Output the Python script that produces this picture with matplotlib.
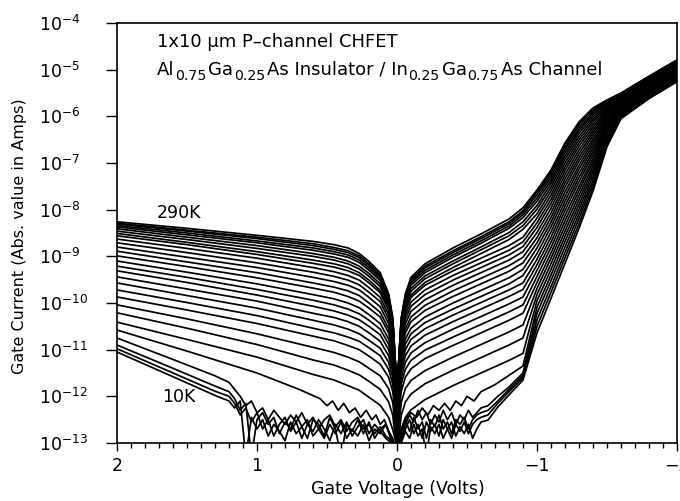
import numpy as np
import matplotlib
matplotlib.use("Agg")
import matplotlib.pyplot as plt
from matplotlib.ticker import MultipleLocator, LogLocator, NullLocator

plt.rcParams['font.family'] = ['DejaVu Sans']

# ---------------- data (log10 of |gate current| in A) ----------------
temps_smooth_K = [290, 280, 270, 260, 250, 240, 230, 220, 210, 200, 190, 180,
                  170, 160, 150, 140, 130, 120, 110, 100, 90, 80, 70, 60]

v_pos = [2.0, 1.5, 1.0, 0.6, 0.45, 0.35, 0.27, 0.2, 0.12, 0.06, 0.03, 0.01]
v_zero = 0.0
log_at_zero = -13.2
v_neg = [-0.01, -0.03, -0.06, -0.1, -0.2, -0.4, -0.6, -0.8, -0.9, -1.0,
         -1.1, -1.2, -1.3, -1.4, -1.5, -1.6, -1.8, -2.0]

logI_pos = [
    [-8.26, -8.40, -8.55, -8.68, -8.75, -8.82, -8.94, -9.11, -9.35, -9.80, -10.32, -11.37],
    [-8.29, -8.44, -8.59, -8.73, -8.81, -8.88, -8.99, -9.16, -9.40, -9.83, -10.35, -11.38],
    [-8.31, -8.46, -8.62, -8.77, -8.85, -8.92, -9.03, -9.20, -9.43, -9.86, -10.37, -11.38],
    [-8.34, -8.50, -8.67, -8.82, -8.90, -8.97, -9.08, -9.25, -9.47, -9.90, -10.39, -11.37],
    [-8.37, -8.54, -8.71, -8.87, -8.95, -9.02, -9.13, -9.30, -9.52, -9.94, -10.42, -11.38],
    [-8.41, -8.59, -8.77, -8.94, -9.02, -9.10, -9.21, -9.37, -9.59, -10.00, -10.47, -11.41],
    [-8.46, -8.64, -8.83, -9.00, -9.08, -9.16, -9.27, -9.43, -9.65, -10.05, -10.51, -11.43],
    [-8.51, -8.70, -8.90, -9.08, -9.16, -9.24, -9.35, -9.51, -9.73, -10.12, -10.57, -11.47],
    [-8.56, -8.75, -8.96, -9.15, -9.23, -9.31, -9.41, -9.57, -9.78, -10.16, -10.60, -11.46],
    [-8.63, -8.83, -9.04, -9.24, -9.33, -9.41, -9.51, -9.67, -9.88, -10.25, -10.68, -11.52],
    [-8.71, -8.92, -9.14, -9.34, -9.43, -9.51, -9.61, -9.77, -9.97, -10.34, -10.76, -11.58],
    [-8.80, -9.02, -9.24, -9.45, -9.54, -9.62, -9.72, -9.88, -10.08, -10.44, -10.85, -11.65],
    [-8.89, -9.12, -9.35, -9.57, -9.66, -9.74, -9.84, -10.00, -10.20, -10.55, -10.95, -11.73],
    [-8.99, -9.22, -9.46, -9.68, -9.77, -9.86, -9.96, -10.11, -10.30, -10.64, -11.02, -11.77],
    [-9.10, -9.34, -9.59, -9.82, -9.91, -10.00, -10.10, -10.25, -10.44, -10.77, -11.14, -11.87],
    [-9.21, -9.45, -9.71, -9.94, -10.04, -10.13, -10.23, -10.37, -10.56, -10.88, -11.24, -11.95],
    [-9.31, -9.56, -9.83, -10.07, -10.17, -10.26, -10.36, -10.50, -10.68, -11.00, -11.35, -12.04],
    [-9.44, -9.70, -9.96, -10.22, -10.31, -10.40, -10.50, -10.64, -10.82, -11.13, -11.47, -12.14],
    [-9.57, -9.84, -10.11, -10.37, -10.47, -10.56, -10.66, -10.80, -10.97, -11.27, -11.60, -12.23],
    [-9.72, -9.99, -10.27, -10.54, -10.64, -10.73, -10.82, -10.96, -11.13, -11.42, -11.74, -12.35],
    [-9.87, -10.15, -10.44, -10.71, -10.81, -10.91, -11.00, -11.14, -11.31, -11.59, -11.90, -12.49],
    [-10.04, -10.34, -10.66, -10.95, -11.06, -11.16, -11.26, -11.40, -11.56, -11.83, -12.14, -12.71],
    [-10.21, -10.54, -10.89, -11.22, -11.33, -11.44, -11.54, -11.68, -11.85, -12.12, -12.41, -12.97],
    [-10.41, -10.78, -11.16, -11.53, -11.65, -11.77, -11.87, -12.02, -12.19, -12.45, -12.72, -12.95],
]

logI_neg = [
    [-11.37, -10.32, -9.80, -9.45, -9.16, -8.82, -8.52, -8.20, -7.96, -7.58, -7.15, -6.57, -6.12, -5.82, -5.65, -5.50, -5.14, -4.79],
    [-11.38, -10.35, -9.83, -9.50, -9.21, -8.88, -8.58, -8.26, -8.02, -7.62, -7.19, -6.60, -6.15, -5.84, -5.66, -5.51, -5.15, -4.80],
    [-11.38, -10.37, -9.86, -9.53, -9.25, -8.92, -8.62, -8.30, -8.06, -7.68, -7.24, -6.65, -6.19, -5.88, -5.68, -5.52, -5.16, -4.81],
    [-11.37, -10.39, -9.90, -9.57, -9.30, -8.97, -8.67, -8.35, -8.11, -7.75, -7.30, -6.71, -6.25, -5.92, -5.71, -5.53, -5.17, -4.82],
    [-11.38, -10.42, -9.94, -9.62, -9.35, -9.02, -8.72, -8.40, -8.17, -7.82, -7.37, -6.78, -6.30, -5.96, -5.73, -5.54, -5.18, -4.83],
    [-11.41, -10.47, -10.00, -9.69, -9.42, -9.10, -8.80, -8.49, -8.26, -7.91, -7.44, -6.85, -6.36, -6.01, -5.76, -5.56, -5.19, -4.84],
    [-11.43, -10.51, -10.05, -9.75, -9.48, -9.16, -8.86, -8.56, -8.34, -7.99, -7.52, -6.92, -6.43, -6.06, -5.79, -5.57, -5.21, -4.85],
    [-11.47, -10.57, -10.12, -9.83, -9.56, -9.24, -8.94, -8.64, -8.42, -8.09, -7.60, -7.00, -6.50, -6.11, -5.82, -5.59, -5.22, -4.87],
    [-11.46, -10.60, -10.16, -9.88, -9.62, -9.31, -9.04, -8.77, -8.59, -8.18, -7.69, -7.08, -6.57, -6.17, -5.85, -5.61, -5.23, -4.88],
    [-11.52, -10.68, -10.25, -9.98, -9.72, -9.41, -9.14, -8.87, -8.69, -8.28, -7.78, -7.16, -6.64, -6.23, -5.88, -5.63, -5.25, -4.90],
    [-11.58, -10.76, -10.34, -10.07, -9.82, -9.51, -9.24, -8.97, -8.79, -8.38, -7.87, -7.25, -6.72, -6.29, -5.91, -5.64, -5.27, -4.91],
    [-11.65, -10.85, -10.44, -10.18, -9.93, -9.62, -9.35, -9.08, -8.90, -8.49, -7.97, -7.34, -6.80, -6.35, -5.95, -5.66, -5.28, -4.93],
    [-11.73, -10.95, -10.55, -10.30, -10.05, -9.74, -9.47, -9.20, -9.02, -8.60, -8.07, -7.43, -6.88, -6.41, -5.98, -5.68, -5.30, -4.95],
    [-11.77, -11.02, -10.64, -10.40, -10.16, -9.86, -9.59, -9.32, -9.14, -8.71, -8.17, -7.52, -6.96, -6.48, -6.02, -5.70, -5.32, -4.96],
    [-11.87, -11.14, -10.77, -10.54, -10.30, -10.00, -9.73, -9.46, -9.28, -8.82, -8.27, -7.62, -7.05, -6.54, -6.06, -5.72, -5.34, -4.98],
    [-11.95, -11.24, -10.88, -10.66, -10.42, -10.13, -9.86, -9.59, -9.41, -8.94, -8.37, -7.72, -7.13, -6.61, -6.09, -5.74, -5.35, -5.00],
    [-12.04, -11.35, -11.00, -10.78, -10.55, -10.26, -9.99, -9.72, -9.57, -9.06, -8.48, -7.82, -7.22, -6.68, -6.13, -5.77, -5.37, -5.02],
    [-12.14, -11.47, -11.13, -10.92, -10.69, -10.40, -10.13, -9.86, -9.71, -9.18, -8.59, -7.92, -7.31, -6.75, -6.17, -5.79, -5.39, -5.04],
    [-12.23, -11.60, -11.27, -11.07, -10.85, -10.56, -10.29, -10.02, -9.87, -9.30, -8.70, -8.02, -7.40, -6.82, -6.21, -5.81, -5.41, -5.06],
    [-12.35, -11.74, -11.42, -11.23, -11.01, -10.73, -10.46, -10.19, -10.04, -9.43, -8.81, -8.13, -7.50, -6.90, -6.25, -5.83, -5.43, -5.07],
    [-12.49, -11.90, -11.59, -11.41, -11.19, -10.91, -10.64, -10.37, -10.22, -9.56, -8.93, -8.24, -7.59, -6.97, -6.30, -5.86, -5.45, -5.09],
    [-12.71, -12.14, -11.83, -11.66, -11.45, -11.16, -10.89, -10.62, -10.47, -9.69, -9.04, -8.35, -7.69, -7.05, -6.34, -5.88, -5.47, -5.11],
    [-12.97, -12.41, -12.12, -11.95, -11.73, -11.44, -11.17, -10.90, -10.75, -9.82, -9.16, -8.46, -7.79, -7.12, -6.38, -5.90, -5.49, -5.13],
    [-12.95, -12.72, -12.45, -12.29, -12.07, -11.77, -11.50, -11.23, -11.08, -9.95, -9.28, -8.57, -7.89, -7.20, -6.42, -5.93, -5.51, -5.15],
]

# 50 K curve (noisy near zero bias)
v_50K = [2.0, 1.5, 1.0, 0.7, 0.55, 0.5, 0.46, 0.42, 0.38, 0.34, 0.3, 0.26, 0.22, 0.18, 0.15,
         0.12, 0.09, 0.06, 0.03, 0.01, 0.0, -0.01, -0.03, -0.06, -0.1, -0.14, -0.18, -0.22,
         -0.26, -0.3, -0.34, -0.38, -0.42, -0.46, -0.5, -0.55, -0.6, -0.7, -0.8, -0.9,
         -1.0, -1.1, -1.2, -1.3, -1.4, -1.5, -1.6, -1.8, -2.0]
logI_50K = [-10.58, -11.03, -11.50, -11.85, -12.05, -12.2, -12.1, -12.3, -12.15, -12.35,
            -12.25, -12.45, -12.3, -12.5, -12.4, -12.6, -12.5, -12.75, -12.9, -13.1, -13.2,
            -13.0, -12.7, -12.5, -12.35, -12.45, -12.25, -12.4, -12.2, -12.3, -12.15, -12.3,
            -12.1, -12.2, -12.0, -12.1, -11.9, -11.75, -11.55, -11.35, -10.09, -9.40, -8.68,
            -7.99, -7.28, -6.47, -5.95, -5.53, -5.18]

# 40, 30, 20, 10 K curves: smooth head, noise floor, rising tail
temps_low_K = [40, 30, 20, 10]
v_low_head = [2.0, 1.6, 1.3, 1.2]
logI_low_head = [
    [-10.75, -11.21, -11.56, -11.70],
    [-10.90, -11.40, -11.78, -11.90],
    [-10.98, -11.50, -11.89, -12.00],
    [-11.05, -11.58, -11.98, -12.10],
]
v_noise_pos = [1.16, 1.12, 1.08, 1.04, 1.0, 0.96, 0.92, 0.88, 0.84, 0.8, 0.76, 0.72, 0.68,
               0.64, 0.6, 0.56, 0.52, 0.48, 0.44, 0.4, 0.36, 0.32, 0.28, 0.24, 0.2, 0.16,
               0.12, 0.08, 0.04, 0.0]
logI_noise_pos = [
    [-11.85, -12.0, -12.2, -12.1, -12.35, -12.25, -12.5, -12.3, -12.45, -12.6, -12.4, -12.55,
     -12.35, -12.6, -12.45, -12.7, -12.5, -12.4, -12.65, -12.5, -12.75, -12.55, -12.45, -12.7,
     -12.6, -12.8, -12.65, -12.85, -12.95, -13.2],
    [-12.05, -12.3, -12.15, -13.3, -12.5, -12.35, -12.6, -12.45, -12.8, -12.55, -12.7, -12.4,
     -12.65, -12.9, -12.5, -12.6, -12.85, -12.45, -12.7, -13.3, -12.6, -12.75, -12.5, -12.8,
     -12.55, -12.9, -12.7, -12.6, -12.9, -13.2],
    [-12.15, -12.4, -12.25, -12.55, -12.35, -12.7, -12.5, -12.85, -12.6, -12.45, -12.75, -12.55,
     -12.9, -12.6, -12.75, -12.5, -12.7, -12.95, -12.6, -12.8, -12.55, -12.85, -12.65, -12.5,
     -12.8, -12.6, -12.75, -12.9, -13.0, -13.2],
    [-12.25, -12.1, -13.3, -12.45, -12.7, -12.5, -12.85, -12.6, -12.75, -12.95, -12.55, -12.8,
     -12.65, -12.5, -12.85, -12.7, -12.9, -12.6, -12.8, -12.55, -12.9, -12.7, -12.85, -12.6,
     -12.95, -12.7, -12.8, -12.6, -12.95, -13.2],
]
v_noise_neg = [-0.03, -0.06, -0.09, -0.12, -0.15, -0.18, -0.21, -0.24, -0.27, -0.3, -0.33,
               -0.36, -0.39, -0.42, -0.45, -0.48, -0.51, -0.54, -0.57, -0.6]
logI_noise_neg = [
    [-12.9, -12.6, -12.4, -12.55, -12.3, -12.5, -12.35, -12.6, -12.4, -12.55, -12.3, -12.5,
     -12.35, -12.6, -12.4, -12.5, -12.3, -12.45, -12.35, -12.25],
    [-12.8, -12.5, -12.75, -12.45, -12.7, -12.55, -12.9, -12.5, -12.65, -12.4, -12.7, -12.55,
     -12.8, -12.5, -12.6, -12.45, -12.7, -12.5, -12.4, -12.35],
    [-12.95, -12.7, -12.5, -12.8, -12.6, -12.9, -12.55, -12.75, -12.6, -12.85, -12.5, -12.7,
     -12.9, -12.6, -12.75, -12.55, -12.8, -12.6, -12.5, -12.45],
    [-13.0, -12.75, -12.9, -12.6, -12.85, -12.7, -13.3, -12.65, -12.8, -12.6, -12.9, -12.7,
     -12.55, -12.85, -12.65, -12.8, -12.6, -12.9, -12.7, -12.55],
]
v_low_tail = [-0.65, -0.72, -0.8, -0.9, -1.0, -1.1, -1.2, -1.3, -1.4, -1.5, -1.6, -1.8, -2.0]
logI_low_tail = [
    [-12.2, -12.0, -11.8, -11.5, -10.22, -9.52, -8.80, -8.09, -7.36, -6.51, -5.98, -5.55, -5.20],
    [-12.3, -12.1, -11.85, -11.55, -10.36, -9.65, -8.92, -8.19, -7.44, -6.56, -6.00, -5.58, -5.22],
    [-12.4, -12.15, -11.9, -11.6, -10.50, -9.77, -9.03, -8.30, -7.52, -6.60, -6.03, -5.60, -5.24],
    [-12.51, -12.23, -11.97, -11.65, -10.64, -9.90, -9.15, -8.40, -7.60, -6.65, -6.05, -5.62, -5.26],
]

# ---------------- figure ----------------
W, H = 680, 501
fig = plt.figure(figsize=(W / 100, H / 100), dpi=100)
ax = fig.add_axes([117 / W, 1 - 443 / H, 560 / W, 420 / H])

lw = 1.25
for rp, rn in zip(logI_pos, logI_neg):
    v = v_pos + [v_zero] + v_neg
    lg = rp + [log_at_zero] + rn
    ax.plot(v, 10.0 ** np.array(lg), color='black', lw=lw)

ax.plot(v_50K, 10.0 ** np.array(logI_50K), color='black', lw=lw)

for h, npz, nng, t in zip(logI_low_head, logI_noise_pos, logI_noise_neg, logI_low_tail):
    v = v_low_head + v_noise_pos + v_noise_neg + v_low_tail
    lg = h + npz + nng + t
    ax.plot(v, 10.0 ** np.array(lg), color='black', lw=lw)

ax.set_yscale('log')
ax.set_xlim(2, -2)
ax.set_ylim(1e-13, 1e-4)

ax.xaxis.set_major_locator(MultipleLocator(1))
ax.xaxis.set_minor_locator(MultipleLocator(0.1))
ax.yaxis.set_major_locator(LogLocator(base=10, numticks=20))
ax.yaxis.set_minor_locator(NullLocator())

ax.tick_params(axis='x', which='major', direction='out', length=6, width=1.0,
               labelsize=12.5, pad=4, top=False)
ax.tick_params(axis='x', which='minor', direction='out', length=3.5, width=1.0, top=False)
ax.tick_params(axis='y', which='major', direction='out', length=8, width=1.0,
               labelsize=12.5, pad=48, right=False)
ax.set_xticks([2, 1, 0, -1, -2])
ax.set_xticklabels(['2', '1', '0', '\u22121', '\u22122'])
for lab in ax.get_yticklabels():
    lab.set_horizontalalignment('left')

for sp in ax.spines.values():
    sp.set_linewidth(1.2)
    sp.set_color('black')

fs_main = 13
fig.text(157 / W, 1 - 47 / H, '1x10 \u00b5m P\u2013channel CHFET', fontsize=fs_main,
         ha='left', va='baseline')

# second line built from pieces so that the subscripts are nearly full size
pieces = [('Al', False), ('0.75', True), ('Ga', False), ('0.25', True),
          ('As Insulator / In', False), ('0.25', True), ('Ga', False), ('0.75', True),
          ('As Channel', False)]
renderer = fig.canvas.get_renderer()
x_px = 157.0
for txt, is_sub in pieces:
    fs = 10.2 if is_sub else fs_main
    base = 80.5 if is_sub else 75.0
    t = fig.text(x_px / W, 1 - base / H, txt, fontsize=fs, ha='left', va='baseline')
    bb = t.get_window_extent(renderer)
    x_px = bb.x1 + (2.0 if is_sub else 0.5)

fig.text(157 / W, 1 - 218 / H, '290K', fontsize=12.5, ha='left', va='baseline')
fig.text(162 / W, 1 - 402 / H, '10K', fontsize=12.5, ha='left', va='baseline')

fig.text(398 / W, 1 - 489 / H, 'Gate Voltage (Volts)', fontsize=12.5,
         ha='center', va='center')
fig.text(20 / W, 1 - 236 / H, 'Gate Current (Abs. value in Amps)', fontsize=11.5,
         ha='center', va='center', rotation=90)

fig.savefig('out.png', dpi=100, facecolor='white')
